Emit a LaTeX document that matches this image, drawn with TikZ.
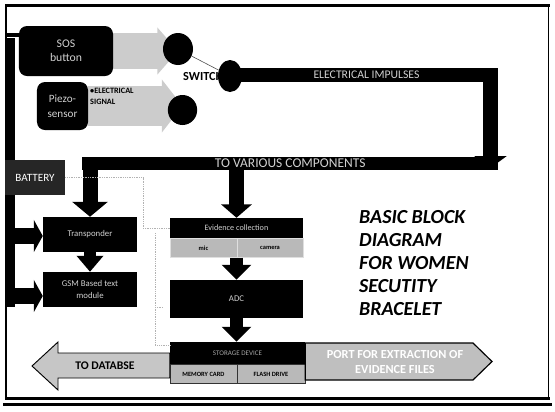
\documentclass[tikz,border=0pt]{standalone}
\usepackage{fontspec}
\setmainfont{Carlito}
\usetikzlibrary{arrows.meta,backgrounds,shapes.geometric}
\tikzset{
	blackbox/.style={fill=black, text=white!82!black, inner sep=0pt, align=center},
	roundbox/.style={blackbox, rounded corners=0.24cm},
	graybox/.style={fill=gray!55, draw=gray!25, inner sep=0pt, text=black,
		font=\bfseries\fontsize{5.5}{6}\selectfont},
	dot/.style={ellipse, fill=black, inner sep=0pt},
	fatarrow/.style={line width=0.45cm, -{Triangle[width=1cm,length=0.42cm]}},
	downarrow/.style={line width=0.39cm, -{Triangle[width=0.87cm,length=0.45cm]}},
	busarrow/.style={line width=0.48cm, -{Triangle[width=0.96cm,length=0.27cm]}},
	grayarrow/.style={gray!40, -{Triangle[width=#1,length=0.62cm]}},
	wire/.style={gray!60, line width=0.5pt, densely dotted}
}
\begin{document}
\begin{tikzpicture}[x=0.03cm, y=-0.03cm]
\useasboundingbox (0,0) rectangle (555,411);
% outer frame
	\draw[line width=2.5pt] (5,5.5) -- (550,5.5);
	\draw[line width=1.6pt] (6,5) -- (6,399);
	\draw[line width=1.6pt] (548.5,6) -- (548.5,400);
	\draw[line width=2.5pt] (5,398.5) -- (550,398.5);
	\draw[line width=1.8pt] (3,404.5) -- (552,404.5);
% inputs
	\node[roundbox, minimum width=2.82cm, minimum height=1.5cm, font=\fontsize{10}{12}\selectfont] (sos) at (66,51) {SOS\\button};
	\node[roundbox, minimum width=1.53cm, minimum height=1.44cm, font=\fontsize{9.5}{12.5}\selectfont] (piezo) at (62.5,106) {Piezo-\\sensor};
% power bus on the left
	\coordinate (bustop) at (11,38);
	\coordinate (busend) at (11,307);
	\coordinate (tapT) at (11,236);
	\coordinate (tapG) at (11,296);
	\draw[line width=0.24cm] (bustop) -- (busend);
	\draw[line width=0.12cm] (7,35) -- (sos.west |- 7,35);
% switch
	\node[anchor=west, inner sep=0pt, font=\bfseries\fontsize{10.5}{12}\selectfont] (switchtext) at (183,77) {SWITCH};
	\node[blackbox, minimum width=7.89cm, minimum height=0.42cm, font=\fontsize{10}{12}\selectfont] (impulses) at (366.5,75) {ELECTRICAL IMPULSES};
	\node[blackbox, minimum width=12.465cm, minimum height=0.39cm, font=\fontsize{11.5}{12}\selectfont] (various) at (290.25,163.5) {TO VARIOUS COMPONENTS};
	\node[dot, minimum width=0.9cm, minimum height=0.96cm] (csos) at (178,49) {};
	\node[dot, minimum width=0.88cm, minimum height=0.9cm] (cpiezo) at (182.5,110) {};
	\node[dot, minimum width=0.72cm, minimum height=0.96cm] (switch) at (230,76) {};
	\draw[black!70, line width=0.5pt] (csos) -- (switch);
% gray arrows into the switch contacts
	\begin{scope}[on background layer]
		\draw[grayarrow=1.38cm, line width=1.08cm] (sos.east) -- (sos.east -| csos.center);
		\draw[grayarrow=1.56cm, line width=1.2cm] (piezo.east) -- (piezo.east -| cpiezo.center);
	\end{scope}
	\node[anchor=north west, align=left, inner sep=0pt, font=\bfseries\fontsize{7}{9.4}\selectfont] (signal) at (90,88) {\textbullet ELECTRICAL\\SIGNAL};
% battery
	\node[blackbox, fill=black!85, text=white, minimum width=1.8cm, minimum height=1.05cm, font=\fontsize{9.5}{11}\selectfont] (battery) at (35,177.5) {BATTERY};
% left column
	\node[blackbox, minimum width=2.82cm, minimum height=1.05cm, font=\fontsize{7.5}{9}\selectfont] (transponder) at (90,234.5) {Transponder};
	\node[blackbox, minimum width=2.82cm, minimum height=1.05cm, font=\fontsize{7.5}{9.5}\selectfont] (gsm) at (90,289.5) {GSM Based text\\module};
% middle column
	\node[blackbox, minimum width=3.99cm, minimum height=0.6cm, font=\fontsize{7}{8}\selectfont] (evidence) at (236.5,228) {Evidence collection};
	\node[graybox, anchor=north west, minimum width=2.01cm, minimum height=0.57cm] (mic) at (evidence.south west) {mic};
	\node[graybox, anchor=north east, minimum width=1.98cm, minimum height=0.57cm] (camera) at (evidence.south east) {camera};
	\node[blackbox, minimum width=3.99cm, minimum height=1.14cm, font=\fontsize{7.5}{9}\selectfont] (adc) at (236.5,299) {ADC};
	\node[blackbox, text=gray!70, minimum width=4.05cm, minimum height=0.66cm, font=\fontsize{6}{7}\selectfont] (storage) at (237.5,353) {STORAGE DEVICE};
	\node[graybox, draw=black!80, anchor=north west, minimum width=2.01cm, minimum height=0.57cm] (memory) at (storage.south west) {MEMORY CARD};
	\node[graybox, draw=black!80, anchor=north east, minimum width=2.04cm, minimum height=0.57cm] (flash) at (storage.south east) {FLASH DRIVE};
% power arrows
	\coordinate (turn) at (490.5,68);
	\coordinate (drop) at (490.5,168);
	\draw[line width=0.45cm, -{Triangle[width=0.96cm,length=0.36cm]}] (turn) -- (drop);
	\draw[fatarrow, -{Triangle[width=1.05cm,length=0.45cm]}] (transponder.north |- various.center) -- (transponder.north);
	\draw[fatarrow, -{Triangle[width=0.9cm,length=0.4cm]}] (evidence.north |- various.south) -- (evidence.north);
	\draw[busarrow] (tapT) -- (tapT -| transponder.west);
	\draw[busarrow] (tapG) -- (tapG -| gsm.west);
	\draw[downarrow, line width=0.36cm, -{Triangle[width=0.78cm,length=0.48cm]}] (transponder.south) -- (gsm.north);
	\draw[downarrow] (adc.north |- mic.south) -- (adc.north);
	\draw[downarrow] (adc.south) -- (adc.south |- storage.north);
% supply wire from the battery
	\draw[wire] (battery.east) -- (143,177.5) -- (143,228) -- (evidence.west);
	\draw[wire] (155,233) -- (155,345) -- (storage.west |- 155,345);
	\draw[wire] (155,307) -- (163,307);
% outputs
	\draw[fill=gray!45, line width=0.8pt] (memory.south west |- 170,353) -- (58,353) -- (58,342) -- (32,366) -- (58,390) -- (58,378) -- (memory.south west |- 170,378) -- cycle;
	\node[font=\bfseries\fontsize{10}{12}\selectfont] (todb) at (105,366) {TO DATABSE};
	\draw[fill=gray!50, line width=1pt] (storage.east |- 305,343) -- (473,343) -- (492,361.5) -- (473,380) -- (flash.east |- 305,380) -- cycle;
	\node[align=center, text=white, font=\bfseries\fontsize{10.5}{12}\selectfont] (port) at (395,362) {PORT FOR EXTRACTION OF\\EVIDENCE FILES};
% title
	\node[anchor=north west, align=left, inner sep=0pt, font=\bfseries\itshape\fontsize{17}{19.6}\selectfont] (title) at (359,210.5) {BASIC BLOCK\\DIAGRAM\\FOR WOMEN\\SECUTITY\\BRACELET};
\end{tikzpicture}
\end{document}
